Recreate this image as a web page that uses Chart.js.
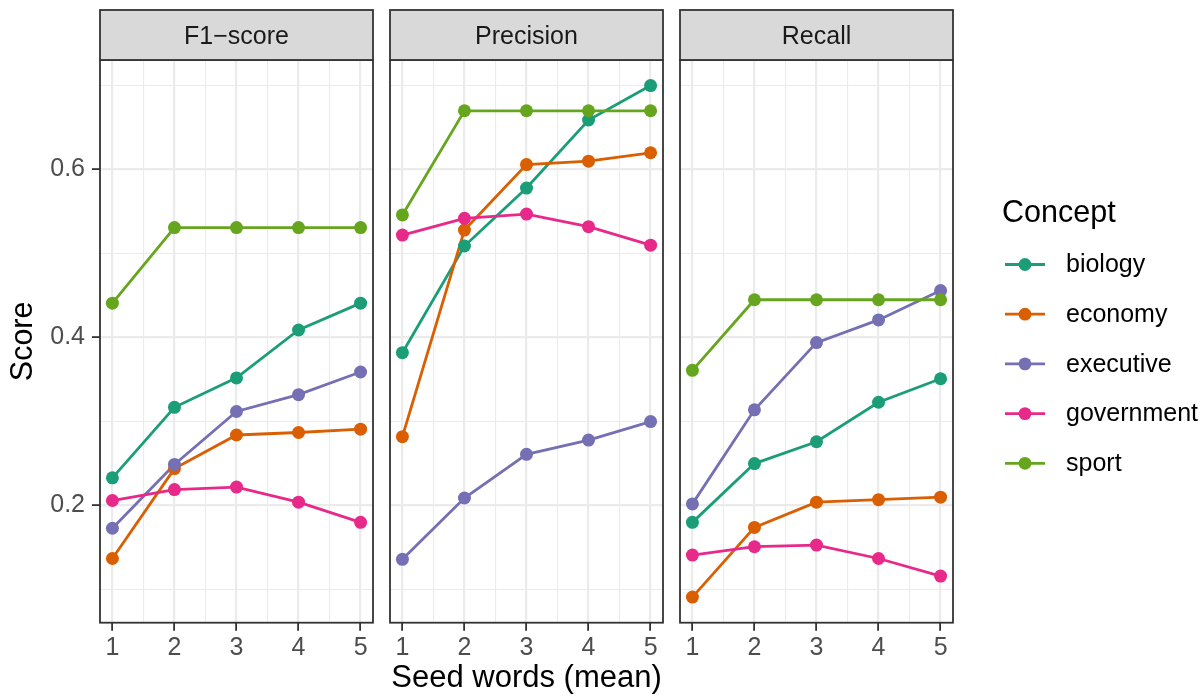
<!DOCTYPE html>
<html>
<head>
<meta charset="utf-8">
<script src="https://cdn.jsdelivr.net/npm/chart.js@4.4.1/dist/chart.umd.min.js"></script>
<style>
  html, body { margin: 0; padding: 0; background: #ffffff; }
  #wrap { position: relative; width: 1204px; height: 696px; overflow: hidden; background: #ffffff; }
  #wrap canvas { position: absolute; left: 0; top: 0; }
</style>
</head>
<body>
<div id="wrap">
  <canvas id="panelF1" width="1204" height="696"></canvas>
  <canvas id="panelPrecision" width="1204" height="696"></canvas>
  <canvas id="panelRecall" width="1204" height="696"></canvas>
</div>
<script>
// ---- data ----
const seedWords = [1, 2, 3, 4, 5];
const concepts = ['biology', 'economy', 'executive', 'government', 'sport'];
const conceptColors = ['#1B9E77', '#D95F02', '#7570B3', '#E7298A', '#66A61E'];
const metricNames = ['F1\u2212score', 'Precision', 'Recall'];

const f1Biology    = [0.233, 0.317, 0.352, 0.409, 0.441];
const f1Economy    = [0.137, 0.244, 0.284, 0.287, 0.291];
const f1Executive  = [0.173, 0.249, 0.312, 0.332, 0.359];
const f1Government = [0.206, 0.219, 0.222, 0.204, 0.180];
const f1Sport      = [0.441, 0.531, 0.531, 0.531, 0.531];

const precBiology    = [0.382, 0.509, 0.578, 0.659, 0.700];
const precEconomy    = [0.282, 0.528, 0.606, 0.610, 0.620];
const precExecutive  = [0.136, 0.209, 0.261, 0.278, 0.300];
const precGovernment = [0.522, 0.542, 0.547, 0.532, 0.510];
const precSport      = [0.546, 0.670, 0.670, 0.670, 0.670];

const recBiology    = [0.180, 0.250, 0.276, 0.323, 0.351];
const recEconomy    = [0.091, 0.174, 0.204, 0.207, 0.210];
const recExecutive  = [0.202, 0.314, 0.394, 0.421, 0.456];
const recGovernment = [0.141, 0.151, 0.153, 0.137, 0.116];
const recSport      = [0.361, 0.445, 0.445, 0.445, 0.445];

// tick / grid positions
const xMajorTicks = [1, 2, 3, 4, 5];
const xMinorTicks = [1.5, 2.5, 3.5, 4.5];
const yMajorTicks = [0.2, 0.4, 0.6];
const yMinorTicks = [0.1, 0.3, 0.5, 0.7];

const panelSeries = [
  [f1Biology, f1Economy, f1Executive, f1Government, f1Sport],
  [precBiology, precEconomy, precExecutive, precGovernment, precSport],
  [recBiology, recEconomy, recExecutive, recGovernment, recSport]
];

// ---- shared scale limits (5% expansion, like ggplot) ----
const allValues = panelSeries.flat(2);
const yLo = Math.min(...allValues), yHi = Math.max(...allValues);
const yPad = (yHi - yLo) * 0.05;
const xPad = (Math.max(...seedWords) - Math.min(...seedWords)) * 0.05;

// ---- layout ----
const W = 1204, H = 696;
const FONT = '"Liberation Sans", Arial, Helvetica, sans-serif';
const panelLeft = [100, 390, 680];
const panelRight = [373, 663, 953];
const panelTop = 60, panelBottom = 622.7;
const stripHeight = 50;

const near = (v, arr) => arr.some(t => Math.abs(t - v) < 1e-9);

// panel border + facet strip
const panelDecor = {
  id: 'panelDecor',
  afterDatasetsDraw(chart, args, opts) {
    const { ctx, chartArea: a } = chart;
    ctx.save();
    ctx.strokeStyle = '#333333';
    ctx.lineWidth = 1.8;
    ctx.strokeRect(a.left, a.top, a.right - a.left, a.bottom - a.top);
    const st = a.top - stripHeight;
    ctx.fillStyle = '#D9D9D9';
    ctx.fillRect(a.left, st, a.right - a.left, stripHeight);
    ctx.strokeRect(a.left, st, a.right - a.left, stripHeight);
    ctx.fillStyle = '#1A1A1A';
    ctx.font = '25px ' + FONT;
    ctx.textAlign = 'center';
    ctx.textBaseline = 'alphabetic';
    ctx.fillText(opts.text, (a.left + a.right) / 2, st + 34.3);
    ctx.restore();
  }
};

// colour legend for the concepts
const conceptLegend = {
  id: 'conceptLegend',
  afterDraw(chart, args, opts) {
    if (!opts.show) return;
    const ctx = chart.ctx;
    ctx.save();
    ctx.fillStyle = '#000000';
    ctx.font = '30.5px ' + FONT;
    ctx.textAlign = 'left';
    ctx.textBaseline = 'alphabetic';
    ctx.fillText('Concept', 1002, 221.7);
    const items = chart.data.datasets.filter(d => d.isLine);
    items.forEach((d, i) => {
      const y = 264.5 + i * 49.7;
      ctx.strokeStyle = d.borderColor;
      ctx.lineWidth = 2.8;
      ctx.beginPath();
      ctx.moveTo(1005, y);
      ctx.lineTo(1045, y);
      ctx.stroke();
      ctx.fillStyle = d.borderColor;
      ctx.beginPath();
      ctx.arc(1025, y, 6.4, 0, Math.PI * 2);
      ctx.fill();
      ctx.fillStyle = '#000000';
      ctx.font = '25px ' + FONT;
      ctx.fillText(d.label, 1066, y + 7.6);
    });
    ctx.restore();
  }
};

function makePanel(canvasId, p) {
  const first = p === 0, middle = p === 1, last = p === 2;
  const datasets = [];
  panelSeries[p].forEach((vals, i) => {
    const pts = seedWords.map((x, j) => ({ x: x, y: vals[j] }));
    // connecting line (drawn beneath all points)
    datasets.push({
      label: concepts[i], isLine: true, data: pts,
      borderColor: conceptColors[i], backgroundColor: conceptColors[i],
      borderWidth: 2.8, pointRadius: 0, pointHoverRadius: 0,
      showLine: true, fill: false, tension: 0, order: 10 + (4 - i)
    });
    // markers
    datasets.push({
      label: concepts[i], data: pts,
      borderColor: conceptColors[i], backgroundColor: conceptColors[i],
      pointBackgroundColor: conceptColors[i], pointBorderWidth: 0,
      pointRadius: 6.5, pointHoverRadius: 6.5,
      showLine: false, order: 4 - i
    });
  });

  return new Chart(document.getElementById(canvasId), {
    type: 'line',
    data: { datasets },
    plugins: [panelDecor, conceptLegend],
    options: {
      responsive: false,
      animation: false,
      events: [],
      devicePixelRatio: 1,
      layout: {
        padding: { left: first ? 0 : panelLeft[p], right: W - panelRight[p], top: panelTop, bottom: 0 }
      },
      plugins: {
        legend: { display: false },
        tooltip: { enabled: false },
        panelDecor: { text: metricNames[p] },
        conceptLegend: { show: last }
      },
      scales: {
        x: {
          type: 'linear',
          min: Math.min(...seedWords) - xPad,
          max: Math.max(...seedWords) + xPad,
          afterBuildTicks: s => { s.ticks = [...xMajorTicks, ...xMinorTicks].sort((a, b) => a - b).map(v => ({ value: v })); },
          afterFit: s => { s.height = H - panelBottom; },
          border: { display: false },
          grid: {
            color: '#EBEBEB',
            lineWidth: c => (c.tick && near(c.tick.value, xMajorTicks)) ? 2.2 : 1.1,
            drawTicks: true,
            tickLength: 8,
            tickWidth: 1.8,
            tickColor: c => (c.tick && near(c.tick.value, xMajorTicks)) ? '#333333' : 'rgba(0,0,0,0)'
          },
          ticks: {
            autoSkip: false, maxRotation: 0, minRotation: 0, padding: 2,
            color: '#4D4D4D', font: { family: FONT, size: 25 },
            callback: v => near(v, xMajorTicks) ? String(v) : ''
          },
          title: {
            display: middle, text: 'Seed words (mean)', color: '#000000',
            font: { family: FONT, size: 31, lineHeight: 1 },
            padding: { top: 0, bottom: 2 }
          }
        },
        y: {
          type: 'linear',
          min: yLo - yPad,
          max: yHi + yPad,
          afterBuildTicks: s => { s.ticks = [...yMinorTicks, ...yMajorTicks].sort((a, b) => a - b).map(v => ({ value: v })); },
          afterFit: s => { s.width = first ? panelLeft[0] : 0; },
          border: { display: false },
          grid: {
            color: '#EBEBEB',
            lineWidth: c => (c.tick && near(c.tick.value, yMajorTicks)) ? 2.2 : 1.1,
            drawTicks: first,
            tickLength: 8,
            tickWidth: 1.8,
            tickColor: c => (c.tick && near(c.tick.value, yMajorTicks)) ? '#333333' : 'rgba(0,0,0,0)'
          },
          ticks: {
            display: first, padding: 7,
            color: '#4D4D4D', font: { family: FONT, size: 25 },
            callback: v => near(v, yMajorTicks) ? v.toFixed(1) : ''
          },
          title: {
            display: first, text: 'Score', color: '#000000',
            font: { family: FONT, size: 30.5, lineHeight: 1 },
            padding: { top: 8, bottom: 0 }
          }
        }
      }
    }
  });
}

makePanel('panelF1', 0);
makePanel('panelPrecision', 1);
makePanel('panelRecall', 2);
</script>
</body>
</html>
